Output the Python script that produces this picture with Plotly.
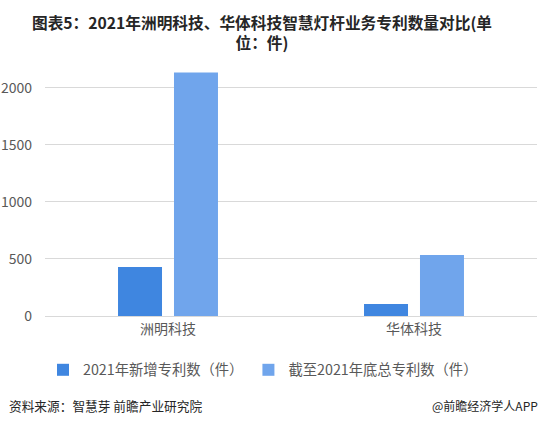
import plotly.graph_objects as go

categories = ["洲明科技", "华体科技"]
new_2021 = [430, 105]
total_2021 = [2134, 535]
series_names = ["2021年新增专利数（件）", "截至2021年底总专利数（件）"]
tick_vals = [0, 500, 1000, 1500, 2000]

FONT = "Noto Sans CJK SC, Microsoft YaHei, sans-serif"

fig = go.Figure()
fig.add_trace(go.Bar(x=categories, y=new_2021, name=series_names[0],
                     marker=dict(color="#3f86e0", line=dict(width=0))))
fig.add_trace(go.Bar(x=categories, y=total_2021, name=series_names[1],
                     marker=dict(color="#70a5ec", line=dict(width=0))))

fig.update_layout(
    width=547, height=424,
    paper_bgcolor="white", plot_bgcolor="white",
    margin=dict(l=45, r=10, t=65, b=108, autoexpand=False),
    font=dict(family=FONT, color="#595959", size=14),
    barmode="group", bargap=0.545, bargroupgap=0.214,
    title=dict(text="<b>图表5：2021年洲明科技、华体科技智慧灯杆业务专利数量对比(单<br>位：件)</b>",
               x=262/547, xanchor="center", xref="container",
               y=1 - 29/424, yanchor="top", yref="container",
               font=dict(family=FONT, size=15.7, color="#262626")),
    legend=dict(orientation="h", x=43/547, xanchor="left", xref="container",
                y=1 - 370/424, yanchor="middle", yref="container",
                font=dict(size=14.3, color="#595959"), itemwidth=30,
                traceorder="normal"),
    xaxis=dict(showgrid=False, showline=True, linecolor="#d9d9d9", linewidth=1,
               ticks="", tickfont=dict(size=14, color="#595959"), automargin=False),
    yaxis=dict(range=[0, 2200], tickvals=tick_vals, showgrid=True,
               gridcolor="#d9d9d9", gridwidth=1, zeroline=False,
               ticks="", tickfont=dict(size=14, color="#595959"),
               ticklabelstandoff=12, automargin=False),
)

fig.add_annotation(text="资料来源：智慧芽 前瞻产业研究院", xref="paper", yref="paper",
                   x=-38/492, y=-89/251, xanchor="left", yanchor="middle",
                   showarrow=False, font=dict(size=12.7, color="#262626"))
fig.add_annotation(text="@前瞻经济学人APP", xref="paper", yref="paper",
                   x=1 + 3/492, y=-89/251, xanchor="right", yanchor="middle",
                   showarrow=False, font=dict(size=12, color="#262626"))

fig.write_html("out.html", config={"displayModeBar": False},
               post_script="document.body.style.margin='0';")
